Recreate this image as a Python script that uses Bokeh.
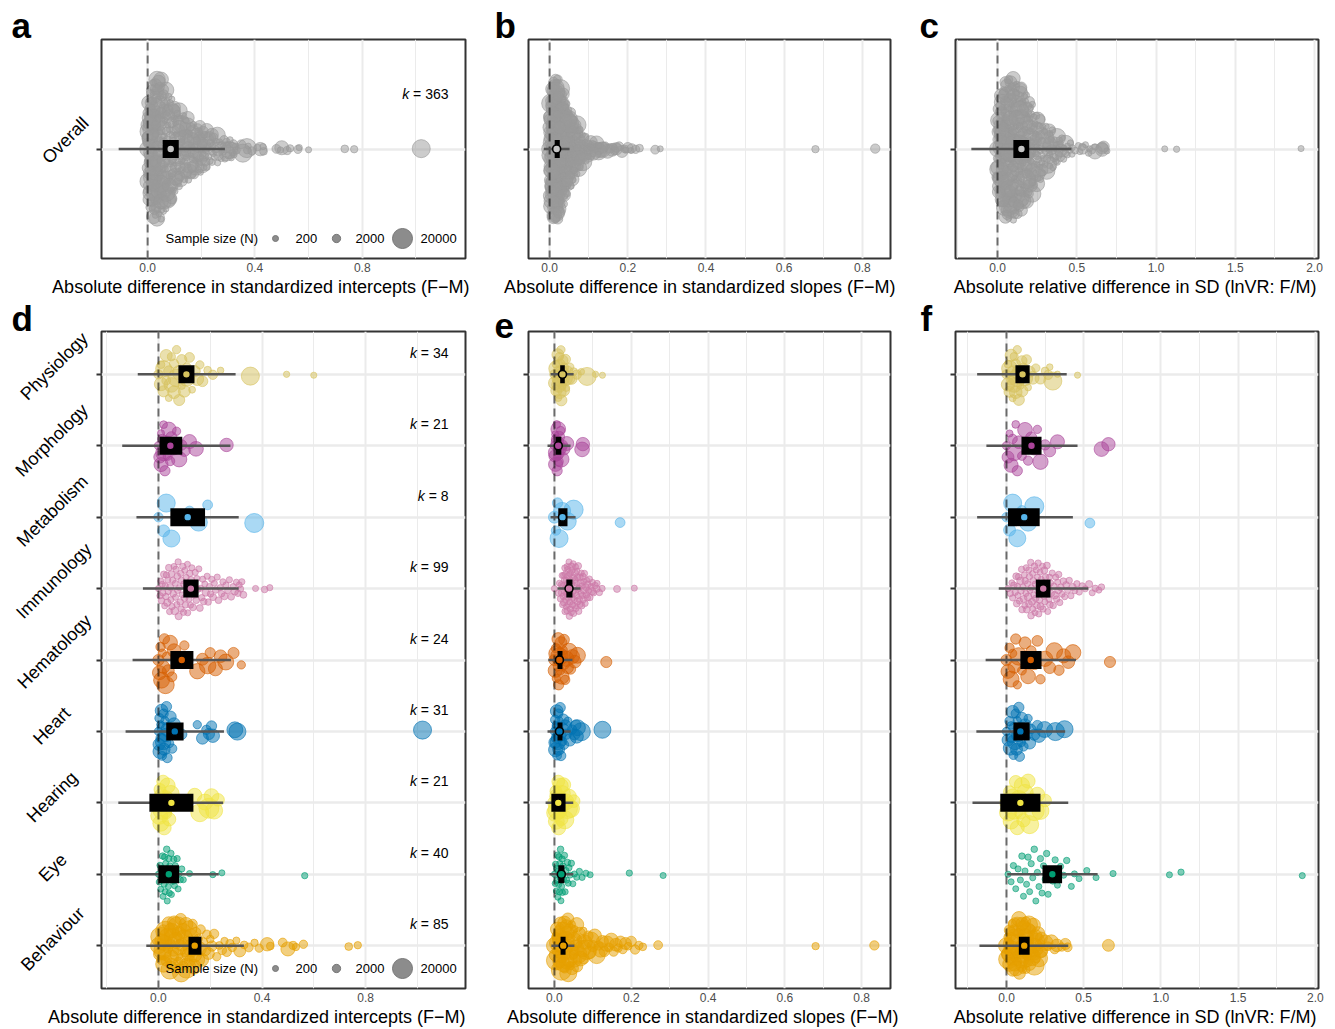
import math
import numpy as np
from bokeh.plotting import figure
from bokeh.layouts import column, row
from bokeh.models import FixedTicker, PrintfTickFormatter, Range1d, Title, LinearAxis
from bokeh.core.properties import value
from bokeh.embed import file_html
from bokeh.resources import INLINE

FONT = "Liberation Sans"

# ---------------- categories (bottom -> top in panels d-f) ----------------
categories = ["Behaviour", "Eye", "Hearing", "Heart", "Hematology",
              "Immunology", "Metabolism", "Morphology", "Physiology"]
category_colors = ["#E69F00", "#009E73", "#F0E442", "#0072B2", "#D55E00",
                   "#CC79A7", "#56B4E9", "#AA4499", "#D6C25E"]
category_k = [85, 40, 21, 31, 24, 99, 8, 21, 34]
overall_label = "Overall"
overall_color = "#999999"
overall_mean_fill = "#C4C4C4"
overall_k = 363
legend_sizes = [200, 2000, 20000]

# ---------------- effect sizes per category ----------------
# Physiology (k = 34)
phys_int = [0.00, 0.01, 0.01, 0.02, 0.02, 0.03, 0.03, 0.04, 0.04, 0.05, 0.05, 0.06, 0.06, 0.07, 0.07, 0.08, 0.08,
            0.09, 0.09, 0.10, 0.11, 0.11, 0.12, 0.13, 0.14, 0.15, 0.16, 0.17, 0.19, 0.21, 0.24, 0.355, 0.495, 0.60]
phys_slp = [0.000, 0.002, 0.004, 0.005, 0.006, 0.008, 0.009, 0.010, 0.011, 0.012, 0.013, 0.014, 0.015, 0.016, 0.017,
            0.018, 0.019, 0.020, 0.022, 0.024, 0.025, 0.027, 0.029, 0.031, 0.034, 0.037, 0.040, 0.045, 0.050, 0.058,
            0.070, 0.085, 0.107, 0.125]
phys_lnvr = [0.00, 0.01, 0.01, 0.02, 0.02, 0.03, 0.03, 0.04, 0.04, 0.05, 0.05, 0.06, 0.06, 0.07, 0.07, 0.08, 0.08,
             0.09, 0.10, 0.10, 0.11, 0.12, 0.13, 0.14, 0.15, 0.17, 0.19, 0.22, 0.25, 0.27, 0.28, 0.30, 0.33, 0.46]
phys_n = [3000, 8000, 1500, 5000, 12000, 2500, 6000, 900, 4000, 10000, 1800, 7000, 3000, 15000, 2000, 5000, 9000,
          1200, 4000, 6000, 2500, 11000, 3500, 800, 5000, 7000, 2000, 4500, 1500, 3000, 600, 16000, 400, 300]

# Morphology (k = 21)
morph_int = [0.00, 0.005, 0.01, 0.01, 0.015, 0.02, 0.02, 0.025, 0.03, 0.035, 0.04, 0.045, 0.05, 0.06, 0.07, 0.08,
             0.09, 0.10, 0.12, 0.145, 0.263]
morph_slp = [0.000, 0.001, 0.002, 0.003, 0.004, 0.005, 0.006, 0.007, 0.008, 0.009, 0.010, 0.011, 0.012, 0.014,
             0.016, 0.018, 0.021, 0.025, 0.032, 0.072, 0.074]
morph_lnvr = [0.00, 0.01, 0.02, 0.03, 0.04, 0.05, 0.06, 0.07, 0.08, 0.10, 0.12, 0.14, 0.16, 0.18, 0.20, 0.22, 0.25,
              0.28, 0.33, 0.615, 0.66]
morph_n = [2000, 6000, 1000, 9000, 3000, 12000, 1500, 4000, 7000, 2500, 10000, 3000, 5000, 8000, 2000, 11000, 4000,
           6000, 9000, 10000, 8000]

# Metabolism (k = 8)
met_int = [0.00, 0.02, 0.03, 0.05, 0.12, 0.155, 0.19, 0.37]
met_slp = [0.004, 0.000, 0.012, 0.020, 0.008, 0.034, 0.171, 0.050]
met_lnvr = [0.00, 0.02, 0.04, 0.07, 0.10, 0.14, 0.54, 0.18]
met_n = [3000, 6000, 16000, 14000, 4000, 15000, 3500, 18000]

# Immunology (k = 99)
imm_int = [0.000, 0.006, 0.009, 0.012, 0.017, 0.021, 0.024, 0.026, 0.031, 0.034,
           0.036, 0.040, 0.043, 0.045, 0.048, 0.052, 0.055, 0.057, 0.060, 0.063,
           0.066, 0.068, 0.071, 0.073, 0.076, 0.078, 0.081, 0.084, 0.086, 0.089,
           0.091, 0.094, 0.097, 0.099, 0.102, 0.104, 0.107, 0.110, 0.112, 0.115,
           0.118, 0.121, 0.124, 0.127, 0.129, 0.133, 0.136, 0.139, 0.142, 0.146,
           0.149, 0.152, 0.156, 0.160, 0.163, 0.167, 0.171, 0.175, 0.179, 0.183,
           0.188, 0.192, 0.197, 0.201, 0.206, 0.211, 0.216, 0.221, 0.227, 0.232,
           0.238, 0.244, 0.249, 0.255, 0.261, 0.268, 0.274, 0.281, 0.288, 0.295,
           0.301, 0.307, 0.312, 0.317, 0.322, 0.328, 0.375, 0.410, 0.430,
           0.015, 0.029, 0.038, 0.050, 0.065, 0.074, 0.088, 0.101, 0.113, 0.126]
imm_slp = [0.000, 0.011, 0.013, 0.016, 0.018, 0.019, 0.021, 0.022, 0.024, 0.025,
           0.026, 0.027, 0.029, 0.030, 0.031, 0.032, 0.033, 0.035, 0.036, 0.037,
           0.038, 0.039, 0.040, 0.041, 0.043, 0.044, 0.045, 0.046, 0.047, 0.048,
           0.049, 0.050, 0.052, 0.053, 0.054, 0.055, 0.056, 0.058, 0.059, 0.060,
           0.061, 0.063, 0.064, 0.065, 0.067, 0.068, 0.070, 0.071, 0.073, 0.074,
           0.076, 0.078, 0.080, 0.082, 0.084, 0.086, 0.089, 0.092, 0.095, 0.098,
           0.102, 0.106, 0.111, 0.117, 0.124, 0.163, 0.208, 0.028, 0.034, 0.042,
           0.020, 0.023, 0.031, 0.036, 0.044, 0.051, 0.057, 0.062, 0.069, 0.077,
           0.027, 0.033, 0.039, 0.046, 0.053, 0.066, 0.072, 0.083, 0.091,
           0.029, 0.035, 0.041, 0.048, 0.055, 0.060, 0.075, 0.087, 0.099, 0.110]
imm_lnvr = [0.010, 0.025, 0.035, 0.048, 0.056, 0.063, 0.071, 0.078, 0.084, 0.090,
            0.095, 0.101, 0.106, 0.111, 0.116, 0.121, 0.126, 0.131, 0.136, 0.140,
            0.144, 0.149, 0.153, 0.157, 0.161, 0.165, 0.169, 0.173, 0.177, 0.181,
            0.185, 0.189, 0.193, 0.197, 0.201, 0.205, 0.209, 0.213, 0.217, 0.221,
            0.225, 0.229, 0.233, 0.237, 0.241, 0.245, 0.249, 0.253, 0.258, 0.262,
            0.267, 0.271, 0.276, 0.281, 0.286, 0.291, 0.296, 0.302, 0.307, 0.313,
            0.319, 0.325, 0.331, 0.338, 0.345, 0.352, 0.360, 0.368, 0.377, 0.386,
            0.396, 0.406, 0.417, 0.429, 0.442, 0.456, 0.471, 0.490, 0.510, 0.535,
            0.555, 0.575, 0.598, 0.615, 0.040, 0.067, 0.119, 0.159, 0.203,
            0.074, 0.098, 0.128, 0.146, 0.171, 0.187, 0.211, 0.243, 0.279, 0.335]
imm_n = [300, 450, 250, 600, 350, 800, 220, 500, 400, 1200,
         280, 650, 330, 900, 240, 520, 380, 700, 260, 1500,
         310, 480, 230, 560, 420, 1000, 270, 610, 360, 750,
         210, 530, 390, 850, 290, 470, 340, 680, 250, 1100,
         320, 590, 230, 440, 410, 950, 280, 630, 370, 720,
         260, 510, 300, 800, 220, 460, 350, 660, 240, 1300,
         330, 570, 270, 490, 400, 880, 250, 620, 310, 740,
         230, 540, 360, 920, 290, 450, 380, 700, 260, 1050,
         300, 580, 240, 470, 420, 820, 280, 640, 350,
         270, 500, 330, 760, 250, 430, 390, 690, 310, 980]

# Hematology (k = 24)
hem_int = [0.000, 0.004, 0.008, 0.012, 0.015, 0.019, 0.023, 0.027, 0.032, 0.038, 0.045, 0.052, 0.060, 0.075,
           0.10, 0.15, 0.17, 0.19, 0.20, 0.22, 0.24, 0.26, 0.29, 0.32]
hem_slp = [0.000, 0.002, 0.004, 0.006, 0.008, 0.010, 0.011, 0.013, 0.015, 0.017, 0.019, 0.021, 0.023, 0.025,
           0.028, 0.031, 0.034, 0.038, 0.042, 0.047, 0.053, 0.060, 0.135, 0.005]
hem_lnvr = [0.00, 0.01, 0.02, 0.03, 0.04, 0.05, 0.06, 0.08, 0.10, 0.12, 0.14, 0.16, 0.18, 0.20, 0.22, 0.25, 0.28,
            0.31, 0.34, 0.37, 0.40, 0.43, 0.67, 0.07]
hem_n = [5000, 9000, 3000, 12000, 2000, 7000, 4000, 15000, 2500, 6000, 10000, 3500, 8000, 4500, 3000, 11000, 6000,
         13000, 4000, 9000, 7000, 12000, 5000, 2000]

# Heart (k = 31)
heart_int = [0.000, 0.002, 0.004, 0.006, 0.008, 0.010, 0.012, 0.014, 0.016, 0.018, 0.020, 0.022, 0.025, 0.028,
             0.031, 0.034, 0.038, 0.042, 0.047, 0.053, 0.060, 0.09, 0.15, 0.17, 0.185, 0.195, 0.205, 0.21, 0.295,
             0.305, 1.02]
heart_slp = [0.000, 0.001, 0.002, 0.003, 0.004, 0.005, 0.006, 0.007, 0.008, 0.009, 0.010, 0.011, 0.012, 0.013,
             0.015, 0.017, 0.019, 0.021, 0.023, 0.025, 0.028, 0.031, 0.035, 0.040, 0.046, 0.052, 0.056, 0.058,
             0.060, 0.125, 0.070]
heart_lnvr = [0.00, 0.01, 0.02, 0.025, 0.03, 0.035, 0.04, 0.045, 0.05, 0.055, 0.06, 0.065, 0.07, 0.075, 0.08,
              0.085, 0.09, 0.095, 0.10, 0.11, 0.12, 0.13, 0.14, 0.15, 0.16, 0.18, 0.20, 0.21, 0.247, 0.376, 0.317]
heart_n = [2000, 6000, 3000, 9000, 1500, 4000, 7000, 2500, 5000, 11000, 3000, 6000, 2000, 8000, 4000, 3500, 10000,
           2500, 5000, 3000, 7000, 4000, 2000, 6000, 3000, 5000, 4000, 8000, 12000, 14000, 16000]

# Hearing (k = 21)
hear_int = [0.000, 0.003, 0.006, 0.009, 0.012, 0.015, 0.018, 0.022, 0.026, 0.030, 0.035, 0.041, 0.048, 0.060,
            0.140, 0.160, 0.180, 0.195, 0.205, 0.215, 0.230]
hear_slp = [0.000, 0.002, 0.004, 0.005, 0.007, 0.008, 0.010, 0.011, 0.013, 0.014, 0.016, 0.018, 0.020, 0.022,
            0.024, 0.027, 0.030, 0.034, 0.038, 0.043, 0.050]
hear_lnvr = [0.00, 0.01, 0.02, 0.03, 0.04, 0.05, 0.06, 0.07, 0.08, 0.09, 0.10, 0.11, 0.12, 0.13, 0.14, 0.15, 0.16,
             0.18, 0.20, 0.22, 0.25]
hear_n = [8000, 14000, 6000, 12000, 10000, 18000, 7000, 9000, 15000, 5000, 11000, 8000, 13000, 6000, 9000, 16000,
          12000, 20000, 10000, 14000, 7000]

# Eye (k = 40)
eye_int = [0.000, 0.003, 0.006, 0.009, 0.012, 0.014, 0.016, 0.018, 0.020, 0.022, 0.024, 0.026, 0.028, 0.030,
           0.032, 0.034, 0.036, 0.038, 0.040, 0.042, 0.044, 0.046, 0.048, 0.050, 0.053, 0.056, 0.059, 0.062,
           0.065, 0.068, 0.072, 0.076, 0.080, 0.085, 0.090, 0.096, 0.210, 0.245, 0.565, 0.120]
eye_slp = [0.000, 0.002, 0.003, 0.005, 0.006, 0.007, 0.008, 0.009, 0.010, 0.011, 0.012, 0.013, 0.014, 0.015,
           0.016, 0.017, 0.018, 0.019, 0.020, 0.021, 0.022, 0.024, 0.026, 0.028, 0.030, 0.032, 0.034, 0.036,
           0.038, 0.041, 0.044, 0.048, 0.052, 0.058, 0.065, 0.072, 0.082, 0.093, 0.195, 0.283]
eye_lnvr = [0.010, 0.030, 0.045, 0.060, 0.075, 0.090, 0.100, 0.110, 0.120, 0.130, 0.140, 0.150, 0.160, 0.170,
            0.180, 0.190, 0.200, 0.210, 0.220, 0.230, 0.240, 0.250, 0.260, 0.270, 0.285, 0.300, 0.315, 0.330,
            0.350, 0.370, 0.390, 0.420, 0.440, 0.470, 0.520, 0.580, 0.690, 1.055, 1.130, 1.915]
eye_n = [300, 250, 400, 220, 350, 280, 500, 240, 320, 260, 450, 230, 380, 270, 600, 250, 330, 210, 420, 290,
         360, 240, 520, 260, 310, 280, 400, 230, 350, 270, 480, 250, 300, 220, 370, 290, 340, 260, 410, 280]

# Behaviour (k = 85)
beh_int = [0.000, 0.004, 0.007, 0.011, 0.013, 0.016, 0.019, 0.023, 0.025, 0.028,
           0.031, 0.035, 0.037, 0.040, 0.044, 0.046, 0.049, 0.052, 0.056, 0.058,
           0.061, 0.064, 0.068, 0.070, 0.073, 0.077, 0.079, 0.082, 0.086, 0.088,
           0.091, 0.095, 0.097, 0.100, 0.104, 0.106, 0.109, 0.113, 0.115, 0.118,
           0.121, 0.125, 0.128, 0.132, 0.137, 0.140, 0.144, 0.149, 0.153, 0.158,
           0.163, 0.169, 0.174, 0.180, 0.187, 0.193, 0.200, 0.207, 0.215, 0.225,
           0.235, 0.246, 0.255, 0.264, 0.276, 0.285, 0.301, 0.314, 0.331, 0.349,
           0.371, 0.389, 0.420, 0.432, 0.480, 0.500, 0.520, 0.531, 0.560, 0.735,
           0.770, 0.050, 0.090, 0.020, 0.140]
beh_slp = [0.000, 0.002, 0.004, 0.006, 0.008, 0.010, 0.012, 0.014, 0.016, 0.018,
           0.020, 0.022, 0.024, 0.026, 0.028, 0.030, 0.032, 0.034, 0.036, 0.038,
           0.040, 0.042, 0.044, 0.046, 0.048, 0.050, 0.053, 0.056, 0.059, 0.062,
           0.065, 0.068, 0.071, 0.074, 0.077, 0.080, 0.084, 0.088, 0.092, 0.096,
           0.100, 0.105, 0.110, 0.115, 0.120, 0.125, 0.130, 0.136, 0.142, 0.148,
           0.154, 0.160, 0.166, 0.172, 0.178, 0.185, 0.192, 0.200, 0.210, 0.220,
           0.230, 0.270, 0.680, 0.833, 0.005, 0.015, 0.025, 0.035, 0.045, 0.055,
           0.003, 0.009, 0.013, 0.019, 0.027, 0.033, 0.041, 0.052, 0.061, 0.075,
           0.011, 0.023, 0.031, 0.039, 0.058]
beh_lnvr = [0.000, 0.006, 0.011, 0.014, 0.021, 0.026, 0.029, 0.036, 0.041, 0.044,
            0.051, 0.054, 0.061, 0.066, 0.069, 0.076, 0.081, 0.084, 0.091, 0.096,
            0.099, 0.106, 0.111, 0.114, 0.121, 0.126, 0.129, 0.136, 0.141, 0.144,
            0.151, 0.156, 0.159, 0.166, 0.171, 0.174, 0.181, 0.186, 0.189, 0.196,
            0.201, 0.204, 0.211, 0.216, 0.219, 0.226, 0.231, 0.252, 0.268, 0.291,
            0.312, 0.327, 0.358, 0.381, 0.396, 0.660, 0.008, 0.019, 0.027, 0.038,
            0.047, 0.059, 0.068, 0.079, 0.087, 0.098, 0.109, 0.117, 0.128, 0.139,
            0.013, 0.033, 0.052, 0.073, 0.093, 0.112, 0.133, 0.153, 0.172, 0.193,
            0.022, 0.062, 0.102, 0.142, 0.183]
beh_n = [12000, 6000, 18000, 3000, 9000, 15000, 4000, 11000, 7000, 20000,
         5000, 13000, 2500, 8000, 16000, 3500, 10000, 6000, 14000, 4500,
         9000, 2000, 12000, 7000, 17000, 3000, 8000, 11000, 5000, 15000,
         6000, 10000, 2500, 13000, 4000, 9000, 19000, 3500, 7000, 12000,
         5000, 8000, 14000, 3000, 10000, 6000, 4000, 11000, 2500, 9000,
         3000, 7000, 2000, 5000, 2500, 6000, 1500, 4000, 3000, 2000,
         1500, 2500, 1200, 3000, 1800, 2200, 1000, 6000, 1500, 2500,
         1200, 2000, 8000, 1500, 2500, 9000, 1800, 1200, 2000, 1500,
         1200, 10000, 7000, 12000, 9000]

int_vals = [beh_int, eye_int, hear_int, heart_int, hem_int, imm_int, met_int, morph_int, phys_int]
slp_vals = [beh_slp, eye_slp, hear_slp, heart_slp, hem_slp, imm_slp, met_slp, morph_slp, phys_slp]
lnvr_vals = [beh_lnvr, eye_lnvr, hear_lnvr, heart_lnvr, hem_lnvr, imm_lnvr, met_lnvr, morph_lnvr, phys_lnvr]
n_vals = [beh_n, eye_n, hear_n, heart_n, hem_n, imm_n, met_n, morph_n, phys_n]

# ---------------- model estimates (order = categories) ----------------
int_mean = [0.140, 0.040, 0.050, 0.063, 0.090, 0.125, 0.113, 0.046, 0.108]
int_ci_lo = [0.116, 0.000, -0.035, 0.030, 0.046, 0.096, 0.046, 0.004, 0.077]
int_ci_hi = [0.166, 0.080, 0.135, 0.097, 0.135, 0.155, 0.180, 0.092, 0.139]
int_pi_lo = [-0.047, -0.150, -0.155, -0.127, -0.100, -0.060, -0.085, -0.140, -0.080]
int_pi_hi = [0.330, 0.233, 0.250, 0.253, 0.280, 0.310, 0.310, 0.278, 0.298]

slp_mean = [0.023, 0.018, 0.010, 0.013, 0.013, 0.038, 0.021, 0.010, 0.021]
slp_ci_lo = [0.016, 0.010, -0.008, 0.008, 0.008, 0.031, 0.010, 0.003, 0.015]
slp_ci_hi = [0.029, 0.026, 0.029, 0.021, 0.021, 0.047, 0.034, 0.018, 0.027]
slp_pi_lo = [-0.008, -0.013, -0.023, -0.018, -0.016, 0.008, -0.010, -0.018, -0.010]
slp_pi_hi = [0.052, 0.049, 0.049, 0.042, 0.047, 0.068, 0.055, 0.042, 0.050]

lnvr_mean = [0.115, 0.297, 0.090, 0.090, 0.157, 0.238, 0.115, 0.162, 0.104]
lnvr_ci_lo = [0.080, 0.233, -0.040, 0.045, 0.090, 0.190, 0.010, 0.097, 0.058]
lnvr_ci_hi = [0.150, 0.360, 0.220, 0.150, 0.227, 0.285, 0.215, 0.227, 0.150]
lnvr_pi_lo = [-0.175, 0.005, -0.220, -0.195, -0.135, -0.050, -0.190, -0.130, -0.190]
lnvr_pi_hi = [0.400, 0.590, 0.400, 0.380, 0.450, 0.530, 0.430, 0.460, 0.390]

# overall: mean, CI low, CI high, PI low, PI high
overall_int = [0.086, 0.056, 0.116, -0.108, 0.288]
overall_slp = [0.018, 0.013, 0.026, -0.015, 0.051]
overall_lnvr = [0.151, 0.100, 0.200, -0.165, 0.467]

# ---------------- axis text ----------------
xlab_int = "Absolute difference in standardized intercepts (F\u2212M)"
xlab_slp = "Absolute difference in standardized slopes (F\u2212M)"
xlab_lnvr = "Absolute relative difference in SD (lnVR: F/M)"
ticks_int = [0.0, 0.4, 0.8]
minor_int = [-0.2, 0.2, 0.6, 1.0]
ticks_slp = [0.0, 0.2, 0.4, 0.6, 0.8]
minor_slp = [0.1, 0.3, 0.5, 0.7]
ticks_lnvr = [0.0, 0.5, 1.0, 1.5, 2.0]
minor_lnvr = [-0.25, 0.25, 0.75, 1.25, 1.75]

# ---------------- layout constants ----------------
TOP_H, BOT_H = 297, 731
TOP_BT, TOP_BB = 39, 39
BOT_BT, BOT_BB = 34, 40
TICK_OUT = 5
LETTER_SIZE = "35px"

CW = {" ": 0.278, "=": 0.584, "A": 0.667, "B": 0.667, "E": 0.667, "H": 0.722, "I": 0.278, "M": 0.833,
      "O": 0.778, "P": 0.667, "a": 0.556, "b": 0.556, "e": 0.556, "g": 0.556, "h": 0.556, "i": 0.222,
      "l": 0.222, "m": 0.833, "n": 0.556, "o": 0.556, "p": 0.556, "r": 0.333, "s": 0.5, "t": 0.278,
      "u": 0.556, "v": 0.5, "y": 0.5}


def text_w(s, size):
    return sum(CW.get(c, 0.556) for c in s) * size


def vdc(n):
    out = np.zeros(n)
    for i in range(n):
        k, f, x = i + 1, 0.5, 0.0
        while k:
            x += f * (k & 1)
            k >>= 1
            f /= 2
        out[i] = x
    return out


def quasi_offsets(v, width=0.4):
    v = np.asarray(v, float)
    n = len(v)
    if n < 2:
        return np.zeros(n)
    sd = v.std(ddof=1)
    q75, q25 = np.percentile(v, [75, 25])
    lo = min(sd, (q75 - q25) / 1.34)
    if lo <= 0:
        lo = sd if sd > 0 else 1.0
    bw = 0.9 * lo * n ** -0.2
    grid = np.linspace(v.min() - 3 * bw, v.max() + 3 * bw, 512)

    def kern(pts):
        return np.exp(-0.5 * ((pts[:, None] - v[None, :]) / bw) ** 2).sum(1)

    dens = kern(v) / kern(grid).max()
    ranks = np.argsort(np.argsort(v, kind="stable"), kind="stable")
    return (vdc(n)[ranks] - 0.5) * 2 * dens * width


def radius_px(n):
    n = np.asarray(n, float)
    return np.sqrt(9.0 + 91.0 * (n - 200.0) / 19800.0)


def make_panel(letter, letter_off, xr, major, minor, xlabel, title_off, width, bl, br, top, groups, summ,
               ylabels=None, ks=None, legend=False):
    H = TOP_H if top else BOT_H
    bt = TOP_BT if top else BOT_BT
    bb = TOP_BB if top else BOT_BB
    fh = H - bt - bb
    frame_w = width - bl - br
    yr = (0.4, 1.6) if top else (0.4, 9.6)
    ppu = fh / (yr[1] - yr[0])
    p = figure(width=width, height=H, x_range=Range1d(*xr), y_range=Range1d(*yr),
               output_backend="svg", toolbar_location=None,
               min_border_left=bl, min_border_right=br, min_border_top=bt, min_border_bottom=bb)
    p.background_fill_color = "white"
    p.border_fill_color = "white"
    p.outline_line_color = "#333333"
    p.outline_line_width = 2

    # panel letter as the plot title
    p.title.text = letter
    p.title.align = "left"
    p.title.offset = letter_off
    p.title.text_font = FONT
    p.title.text_font_size = LETTER_SIZE
    p.title.text_font_style = "bold"
    p.title.text_color = "black"
    p.title.vertical_align = "bottom"
    try:
        p.title.standoff = -11 if top else -13
    except Exception:
        p.title.standoff = 0

    xt = FixedTicker(ticks=major, minor_ticks=minor)
    ypos = [g["y"] for g in groups]
    yt = FixedTicker(ticks=ypos, minor_ticks=[])
    p.xaxis.ticker = xt
    p.xgrid.ticker = xt
    p.yaxis.ticker = yt
    p.ygrid.ticker = yt
    p.xgrid.grid_line_color = "#EBEBEB"
    p.xgrid.grid_line_width = 2
    p.xgrid.minor_grid_line_color = "#EBEBEB"
    p.xgrid.minor_grid_line_width = 1
    p.ygrid.grid_line_color = "#EBEBEB"
    p.ygrid.grid_line_width = 2.4

    ax = p.xaxis[0]
    ax.formatter = PrintfTickFormatter(format="%.1f")
    ax.major_tick_out = 0
    ax.major_tick_in = 0
    ax.minor_tick_out = 0
    ax.minor_tick_in = 0
    ax.axis_line_color = None
    ax.major_label_standoff = 4
    ax.major_label_text_font = FONT
    ax.major_label_text_font_size = "12px"
    ax.major_label_text_color = "#4D4D4D"

    p.add_layout(Title(text=xlabel, align="right", offset=title_off, standoff=0,
                       text_font=FONT, text_font_size="18px", text_font_style="normal",
                       text_color="black"), "below")

    ay = p.yaxis[0]
    ay.major_label_overrides = {t: "" for t in ypos}
    ay.major_label_standoff = 0
    ay.major_tick_out = TICK_OUT
    ay.major_tick_in = 0
    ay.minor_tick_out = 0
    ay.minor_tick_in = 0
    ay.axis_line_color = None
    ay.major_tick_line_color = "#333333"
    ay.major_tick_line_width = 2

    # rotated category labels on a second left axis (centred on their own point)
    if ylabels is not None:
        cx = 64 if top else 53          # label centre, px from canvas left
        up = 8 if top else 7            # label centre, px above its tick
        C = max(text_w(n, 18) for _, n in ylabels) / 2 + 1
        anchor_x = cx + C * math.sqrt(0.5)
        shift = (up + C * math.sqrt(0.5)) / ppu
        nb = text_w(" ", 18)
        tick_pos, overrides = [], {}
        for y, name in ylabels:
            t = round(y + shift, 5)
            pad = max(0, int(round((C - text_w(name, 18) / 2) / nb)))
            tick_pos.append(t)
            overrides[t] = name + "\u00a0" * pad
        lab_axis = LinearAxis(ticker=FixedTicker(ticks=tick_pos, minor_ticks=[]),
                              major_label_overrides=overrides,
                              major_label_orientation=math.pi / 4,
                              major_label_standoff=int(round(bl - TICK_OUT - anchor_x)),
                              major_tick_out=0, major_tick_in=0, minor_tick_out=0, minor_tick_in=0,
                              axis_line_color=None, major_label_text_font=FONT,
                              major_label_text_font_size="18px", major_label_text_color="black")
        p.add_layout(lab_axis, "left")

    # raw effect sizes (quasirandom swarm)
    for g in groups:
        vals = np.asarray(g["vals"], float)
        off = quasi_offsets(vals)
        p.scatter(x=vals, y=g["y"] + off, size=2 * radius_px(g["ns"]), marker="circle",
                  fill_color=g["color"], fill_alpha=0.5, line_color=g["color"],
                  line_alpha=0.75, line_width=0.8)

    # zero line
    p.segment(x0=[0], x1=[0], y0=[yr[0]], y1=[yr[1]], line_color="black", line_alpha=0.55,
              line_width=2, line_dash="8 5")

    sy = [s["y"] for s in summ]
    p.segment(x0=[s["pi_lo"] for s in summ], x1=[s["pi_hi"] for s in summ], y0=sy, y1=sy,
              line_color="#555555", line_width=2.5)
    p.segment(x0=[s["ci_lo"] for s in summ], x1=[s["ci_hi"] for s in summ], y0=sy, y1=sy,
              line_color="black", line_width=18, line_cap="butt")
    p.scatter(x=[s["mean"] for s in summ], y=sy, size=8, marker="circle",
              fill_color=[s["fill"] for s in summ], line_color="black", line_width=1.6)

    # k labels
    if ks is not None:
        ky = [y + 0.3 for y, _ in ks]
        rest = ["= %d" % k for _, k in ks]
        p.text(x=[xr[1]] * len(ks), y=ky, text=rest, x_offset=-17, text_align="right",
               text_baseline="middle", text_font=value(FONT), text_font_size="14px", text_color="black")
        p.text(x=[xr[1]] * len(ks), y=ky, text=["k"] * len(ks),
               x_offset=[-17 - text_w(" " + r, 14) for r in rest], text_align="right",
               text_baseline="middle", text_font=value(FONT), text_font_size="14px",
               text_font_style="italic", text_color="black")

    # size legend
    if legend:
        def sx(px):
            return xr[0] + px * (xr[1] - xr[0]) / frame_w
        ly = yr[0] + 20 * (yr[1] - yr[0]) / fh
        p.text(x=[sx(64)], y=[ly], text=["Sample size (N)"], text_align="left", text_baseline="middle",
               text_font=value(FONT), text_font_size="13px", text_color="black")
        p.scatter(x=[sx(174), sx(235), sx(301)], y=[ly] * 3, size=2 * radius_px(legend_sizes),
                  marker="circle", fill_color="#8C8C8C", line_color="#777777", line_width=1)
        p.text(x=[sx(194), sx(254), sx(319)], y=[ly] * 3, text=[str(v) for v in legend_sizes],
               text_align="left", text_baseline="middle", text_font=value(FONT), text_font_size="13px",
               text_color="black")
    return p


def overall_groups(vals_list):
    return [dict(y=1, vals=np.concatenate([np.asarray(v, float) for v in vals_list]),
                 ns=np.concatenate([np.asarray(n, float) for n in n_vals]), color=overall_color)]


def overall_summ(o):
    return [dict(y=1, mean=o[0], ci_lo=o[1], ci_hi=o[2], pi_lo=o[3], pi_hi=o[4], fill=overall_mean_fill)]


def cat_groups(vals_list):
    return [dict(y=i + 1, vals=vals_list[i], ns=n_vals[i], color=category_colors[i])
            for i in range(len(categories))]


def cat_summ(mean, clo, chi, plo, phi):
    return [dict(y=i + 1, mean=mean[i], ci_lo=clo[i], ci_hi=chi[i], pi_lo=plo[i], pi_hi=phi[i],
                 fill=category_colors[i]) for i in range(len(categories))]


pa = make_panel("a", -90, (-0.172, 1.185), ticks_int, minor_int, xlab_int, -4, 480, 101, 15, True,
                overall_groups(int_vals), overall_summ(overall_int),
                ylabels=[(1, overall_label)], ks=[(1, overall_k)], legend=True)
pb = make_panel("b", -34, (-0.054, 0.872), ticks_slp, minor_slp, xlab_slp, -5, 430, 48, 20, True,
                overall_groups(slp_vals), overall_summ(overall_slp))
pc = make_panel("c", -36, (-0.265, 2.025), ticks_lnvr, minor_lnvr, xlab_lnvr, 2, 424, 45, 16, True,
                overall_groups(lnvr_vals), overall_summ(overall_lnvr))

pd = make_panel("d", -90, (-0.22, 1.186), ticks_int, minor_int, xlab_int, 0, 480, 101, 15, False,
                cat_groups(int_vals), cat_summ(int_mean, int_ci_lo, int_ci_hi, int_pi_lo, int_pi_hi),
                ylabels=[(i + 1, c) for i, c in enumerate(categories)],
                ks=[(i + 1, k) for i, k in enumerate(category_k)], legend=True)
pe = make_panel("e", -34, (-0.0675, 0.875), ticks_slp, minor_slp, xlab_slp, -8, 430, 48, 20, False,
                cat_groups(slp_vals), cat_summ(slp_mean, slp_ci_lo, slp_ci_hi, slp_pi_lo, slp_pi_hi))
pf = make_panel("f", -35, (-0.33, 2.02), ticks_lnvr, minor_lnvr, xlab_lnvr, 2, 424, 45, 16, False,
                cat_groups(lnvr_vals), cat_summ(lnvr_mean, lnvr_ci_lo, lnvr_ci_hi, lnvr_pi_lo, lnvr_pi_hi))

layout = column(row(pa, pb, pc), row(pd, pe, pf))
open("out.html", "w").write(file_html(layout, INLINE))
